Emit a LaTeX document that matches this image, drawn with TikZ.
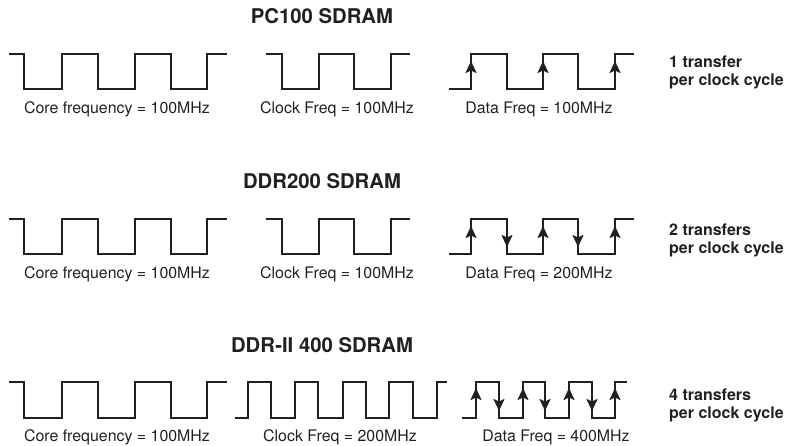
\documentclass[tikz,border=0pt]{standalone}
\usepackage{fontspec}
\setmainfont{TeX Gyre Heros}
\usetikzlibrary{arrows.meta}
\definecolor{ink}{HTML}{231F20}
\tikzset{
  wave/.style={draw=ink, line width=2pt, line join=miter},
  arr/.style={draw=ink, line width=2pt, -{Stealth[length=12pt,width=11pt,inset=2.5pt]}},
  lbl/.style={text=ink, font=\fontsize{15.9}{18}\selectfont, inner sep=0pt},
  ttl/.style={text=ink, font=\fontsize{20.3}{23}\selectfont\bfseries, inner sep=0pt},
  note/.style={text=ink, font=\fontsize{16}{18}\selectfont\bfseries, inner sep=0pt, anchor=west, align=left},
}
\begin{document}
\begin{tikzpicture}[x=1pt,y=-1pt]
\useasboundingbox (0,0) rectangle (788,446);
% ---------- Row 1: PC100 ----------
\def\T{54}\def\B{89}
\node[ttl] (t1) at (322,16) {PC100 SDRAM};
\draw[wave] (9,\T)--(24,\T)--(24,\B)--(62,\B)--(62,\T)--(98,\T)--(98,\B)--(135,\B)--(135,\T)--(171,\T)--(171,\B)--(207,\B)--(207,\T)--(227,\T);
\draw[wave] (266,\T)--(282,\T)--(282,\B)--(319,\B)--(319,\T)--(354,\T)--(354,\B)--(391,\B)--(391,\T)--(410,\T);
\draw[wave] (449,\B)--(471,\B)--(471,\T)--(507,\T)--(507,\B)--(543,\B)--(543,\T)--(578,\T)--(578,\B)--(615,\B)--(615,\T)--(634,\T);
\foreach \x in {471,543,615} \draw[arr] (\x,\B) -- (\x,\T+7);
\node[lbl] (c1) at (117,109) {Core frequency = 100MHz};
\node[lbl] (k1) at (337,109) {Clock Freq = 100MHz};
\node[lbl] (d1) at (539,109) {Data Freq = 100MHz};
\node[note] (n1) at (669,72) {1 transfer\\per clock cycle};
% ---------- Row 2: DDR200 ----------
\def\T{219}\def\B{254}
\node[ttl] (t2) at (322,181) {DDR200 SDRAM};
\draw[wave] (9,\T)--(24,\T)--(24,\B)--(62,\B)--(62,\T)--(98,\T)--(98,\B)--(135,\B)--(135,\T)--(171,\T)--(171,\B)--(207,\B)--(207,\T)--(227,\T);
\draw[wave] (266,\T)--(282,\T)--(282,\B)--(319,\B)--(319,\T)--(354,\T)--(354,\B)--(391,\B)--(391,\T)--(410,\T);
\draw[wave] (449,\B)--(471,\B)--(471,\T)--(507,\T)--(507,\B)--(543,\B)--(543,\T)--(578,\T)--(578,\B)--(615,\B)--(615,\T)--(634,\T);
\foreach \x in {471,543,615} \draw[arr] (\x,\B) -- (\x,\T+7);
\foreach \x in {507,578} \draw[arr] (\x,\T) -- (\x,\B-7);
\node[lbl] (c2) at (117,274) {Core frequency = 100MHz};
\node[lbl] (k2) at (337,274) {Clock Freq = 100MHz};
\node[lbl] (d2) at (539,274) {Data Freq = 200MHz};
\node[note] (n2) at (669,240) {2 transfers\\per clock cycle};
% ---------- Row 3: DDR-II 400 ----------
\def\T{382}\def\B{418}
\node[ttl] (t3) at (322,345) {DDR-II 400 SDRAM};
\draw[wave] (9,\T)--(24,\T)--(24,\B)--(62,\B)--(62,\T)--(98,\T)--(98,\B)--(135,\B)--(135,\T)--(171,\T)--(171,\B)--(207,\B)--(207,\T)--(227,\T);
\draw[wave] (235,\B)--(248,\B)--(248,\T)--(271,\T)--(271,\B)--(295,\B)--(295,\T)--(318,\T)--(318,\B)--(343,\B)--(343,\T)--(366,\T)--(366,\B)--(389,\B)--(389,\T)--(413,\T)--(413,\B)--(437,\B)--(437,\T)--(447,\T);
\draw[wave] (462,\B)--(476,\B)--(476,\T)--(499,\T)--(499,\B)--(523,\B)--(523,\T)--(545,\T)--(545,\B)--(569,\B)--(569,\T)--(592,\T)--(592,\B)--(615,\B)--(615,\T)--(627,\T);
\foreach \x in {476,523,569,615} \draw[arr] (\x,\B) -- (\x,\T+6);
\foreach \x in {499,545,592} \draw[arr] (\x,\T) -- (\x,\B-7);
\node[lbl] (c3) at (117,437) {Core frequency = 100MHz};
\node[lbl] (k3) at (340,437) {Clock Freq = 200MHz};
\node[lbl] (d3) at (556,437) {Data Freq = 400MHz};
\node[note] (n3) at (669,405) {4 transfers\\per clock cycle};
\end{tikzpicture}
\end{document}
